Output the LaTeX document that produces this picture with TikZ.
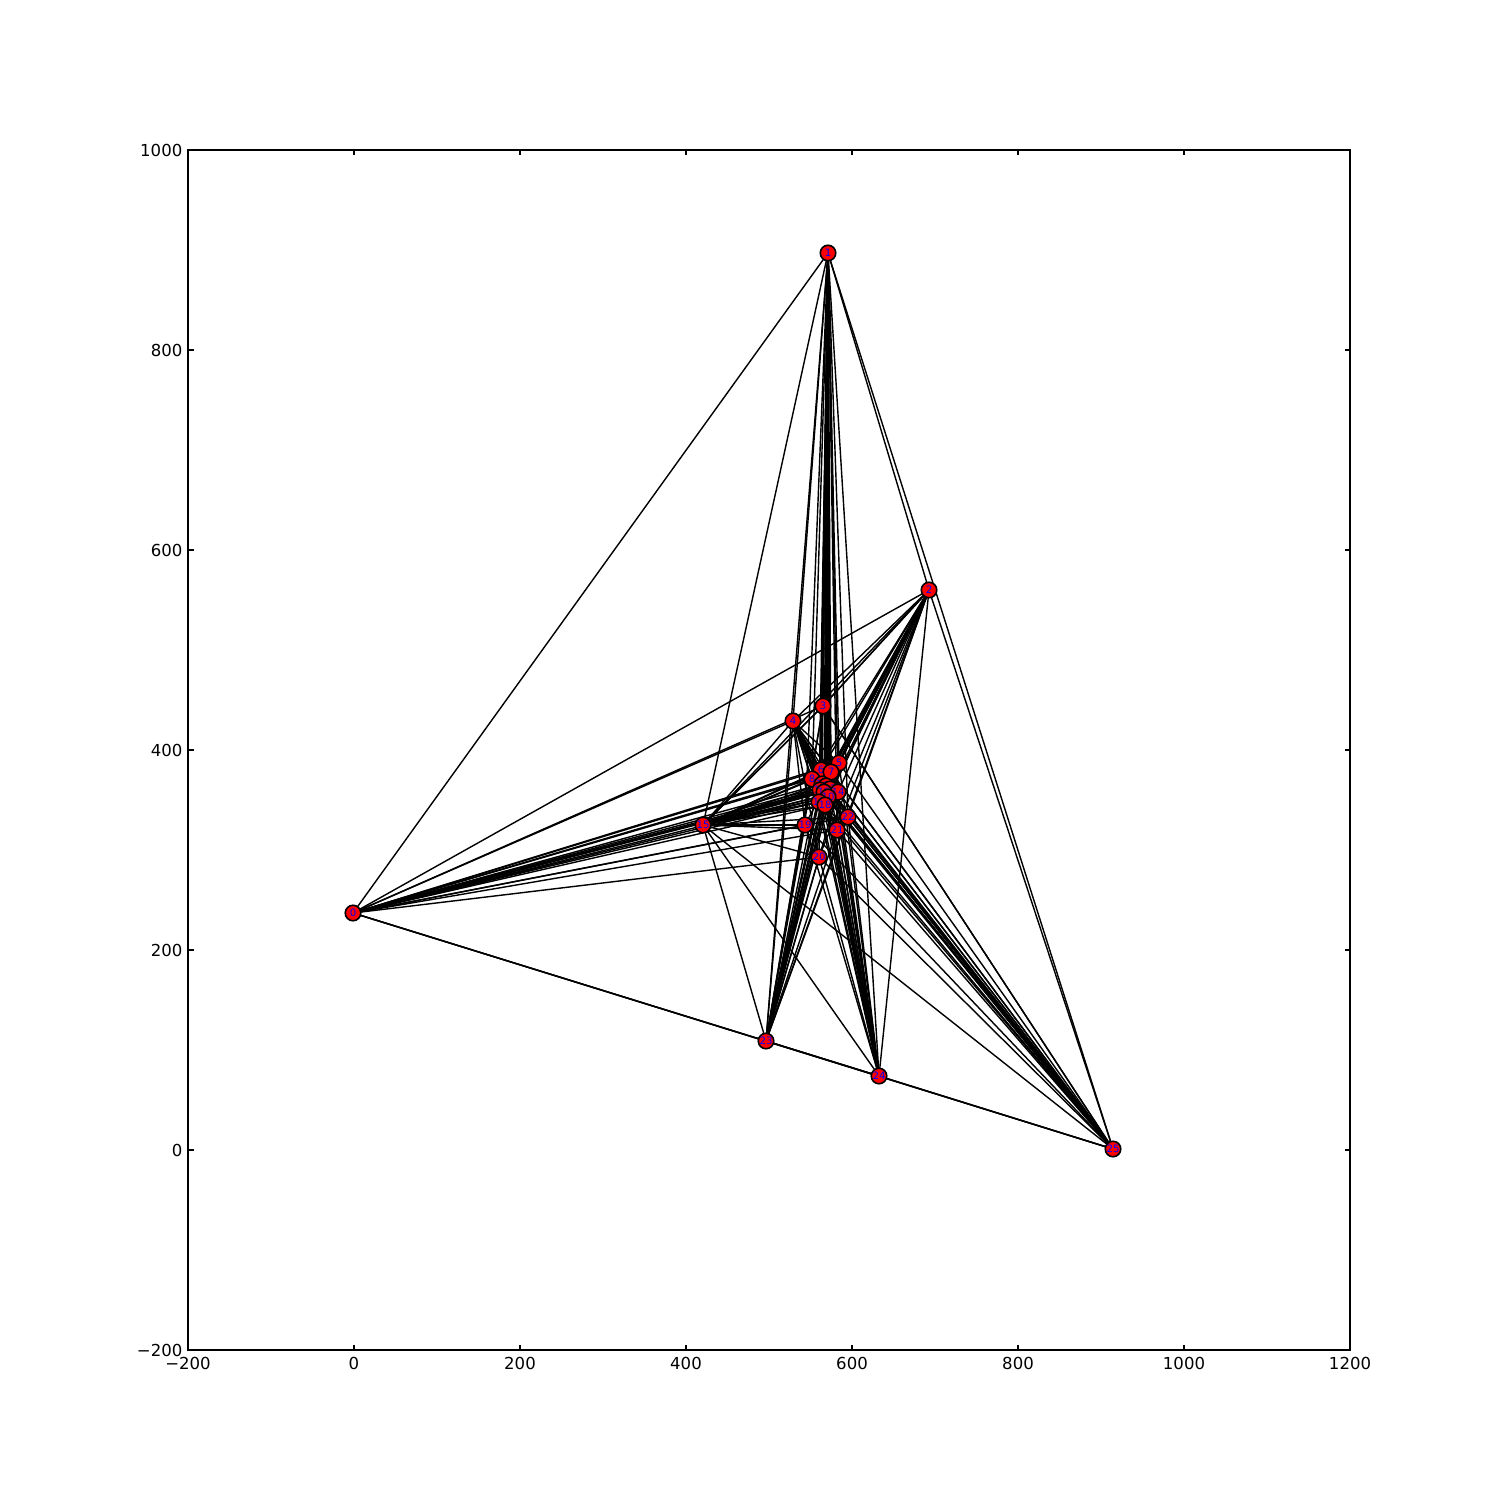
\documentclass[tikz,border=0pt]{standalone}
\usepackage{fontspec}
\setmainfont{DejaVu Sans}
\usetikzlibrary{backgrounds}
\begin{document}
\begin{tikzpicture}[x=0.01cm,y=-0.01cm,
  vtx/.style={circle,draw=black,fill=red,line width=0.45pt,minimum size=1.55mm,inner sep=0pt,
    text=blue,font=\fontsize{2.9}{3.2}\selectfont},
  edge/.style={draw=black,line width=0.4pt},
  ticklab/.style={font=\fontsize{4.7}{5.6}\selectfont,inner sep=0pt}]
\useasboundingbox (0,0) rectangle (1500,1500);
% axes frame
\draw[line width=0.3pt] (188,150) rectangle (1350,1350);
\foreach \v in {-200,0,200,400,600,800,1000,1200}{
  \pgfmathsetmacro{\px}{188+(\v+200)*0.83}
  \draw[line width=0.3pt] (\px,1350) -- ++(0,-5.5);
  \draw[line width=0.3pt] (\px,150) -- ++(0,5.5);
}
\foreach \v/\t in {-200/−200,0/0,200/200,400/400,600/600,800/800,1000/1000,1200/1200}{
  \pgfmathsetmacro{\px}{188+(\v+200)*0.83}
  \node[ticklab,anchor=north] (xl\v) at (\px,1357) {\t};
}
\foreach \v/\t in {-200/−200,0/0,200/200,400/400,600/600,800/800,1000/1000}{
  \pgfmathsetmacro{\py}{1150-\v}
  \draw[line width=0.3pt] (188,\py) -- ++(5.5,0);
  \draw[line width=0.3pt] (1350,\py) -- ++(-5.5,0);
  \node[ticklab,anchor=east] (yl\v) at (183,\py) {\t};
}
% nodes
\node[vtx] (n0) at (353,913) {0};
\node[vtx] (n1) at (828,253) {1};
\node[vtx] (n2) at (929,590) {2};
\node[vtx] (n3) at (823,706) {3};
\node[vtx] (n4) at (793,721) {4};
\node[vtx] (n5) at (839,763) {5};
\node[vtx] (n6) at (821,770) {6};
\node[vtx] (n7) at (831,772) {7};
\node[vtx] (n8) at (812,779) {8};
\node[vtx] (n16) at (822,784) {16};
\node[vtx] (n9) at (826,786) {9};
\node[vtx] (n13) at (830,789) {13};
\node[vtx] (n11) at (820,790) {11};
\node[vtx] (n12) at (824,792) {12};
\node[vtx] (n14) at (838,792) {14};
\node[vtx] (n10) at (828,797) {10};
\node[vtx] (n17) at (819,802) {17};
\node[vtx] (n18) at (825,805) {18};
\node[vtx] (n15) at (703,825) {15};
\node[vtx] (n19) at (805,825) {19};
\node[vtx] (n20) at (819,857) {20};
\node[vtx] (n21) at (837,830) {21};
\node[vtx] (n22) at (848,817) {22};
\node[vtx] (n23) at (766,1041) {23};
\node[vtx] (n24) at (879,1076) {24};
\node[vtx] (n25) at (1113,1149) {25};
\begin{scope}[on background layer]
\fill[white] (0,0) rectangle (1500,1500);
\foreach \h in {0,1,2,15,23,24,25}{
  \foreach \c in {3,5,6,7,8,9,10,11,12,13,14,16,17,18,19,20,21,22}{
    \draw[edge] (n\h.center) -- (n\c.center);
  }
}
\foreach \c in {5,6,7,8,9,10,11,12,13,14,16,17,18,19,20,21,22}{
  \draw[edge] (n4.center) -- (n\c.center);
}
\foreach \a/\b in {0/1,0/2,0/4,0/23,0/24,0/25,23/24,24/25,23/25,1/2,1/25,2/25,
  1/23,1/24,1/15,2/15,2/24,2/23,15/23,15/24,15/25,4/15,4/25,4/23,4/2,4/1,3/15,3/25,
  1/3,2/3,23/3,24/3}{
  \draw[edge] (n\a.center) -- (n\b.center);
}
\end{scope}
\end{tikzpicture}
\end{document}
